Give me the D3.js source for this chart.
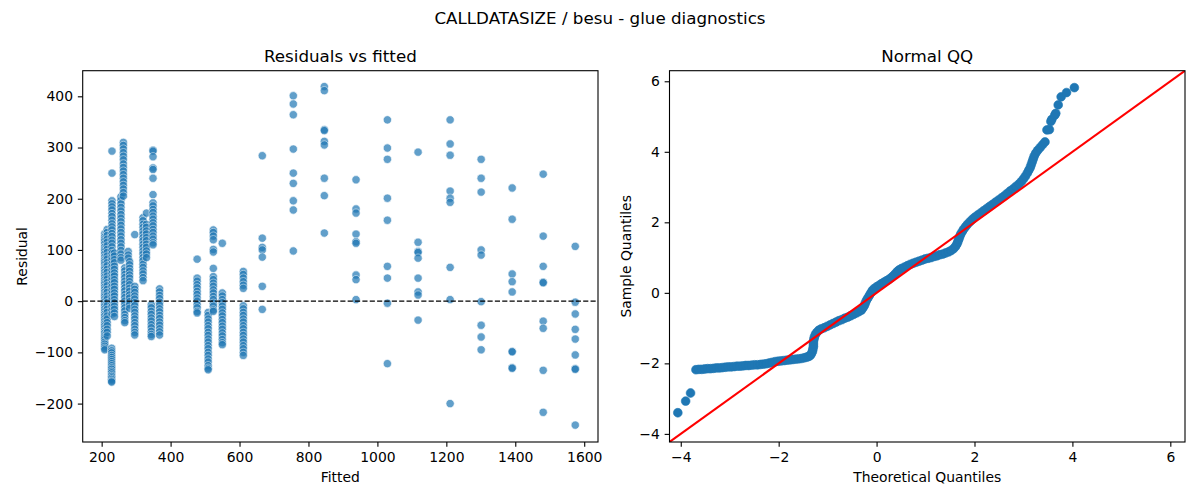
<!DOCTYPE html>
<html><head><meta charset="utf-8">
<script src="https://cdn.jsdelivr.net/npm/d3@7"></script>
<style>
body{margin:0;background:#fff}
svg{display:block}
text{font-family:"DejaVu Sans",sans-serif;fill:#000}
</style>
</head><body>
<svg id="chart" width="1200" height="500"></svg>
<script>
// ---------- data: residuals vs fitted ----------
const fitted = [209, 216, 230, 229, 237, 256, 263, 267, 277, 281, 296, 320, 330, 344, 349, 368,
  477, 509, 524, 550, 611, 666, 756, 846, 938, 1029, 1118, 1211, 1301, 1391, 1481, 1574];
const residuals = [
  [132,126,121,117,112,106,101,97,92,86,81,77,72,66,62,57,52,47,42,37,33,28,23,18,13,9,4,-1,-6,-10,-15,-20,-25,-29,-34,-39,-44,-48,-53,-58,-62,-67,-71,-75,-80,-84,-88,-92,-95],
  [140,134,128,121,115,108,101,95,88,82,75,69,62,56,49,43,36,30,23,17,10,4,-3,-9,-16,-22,-29,-35,-42,-48,-55,-61,-68],
  [293,250,196,190,184,178,171,165,158,151,145,139,132,126,119,113,106,99,93,86,80,73,67,60,54,47,41,34,28,21,15,8,2,-5,-11,-18,-25],
  [-92,-97,-101,-106,-110,-114,-118,-122,-126,-130,-133,-137,-140,-144,-147,-150,-153,-156,-158],
  [94,88,81,75,68,62,55,49,42,36,29,23,16,10,3,-3,-10,-16,-23,-30],
  [204,197,190,183,176,169,162,155,148,141,134,127,120,113,106,99,92,85,80],
  [310,304,297,290,283,276,268,261,254,247,240,233,226,219,212,205],
  [65,59,52,46,39,33,26,20,13,7,0,-6,-13,-19,-26,-32,-38,-42],
  [97,90,84],
  [77,71,64,58,51,45,38,32,25,19,12,6,-1,-7,-14],
  [130,29,23,17,10,4,-3,-9,-16,-22,-29,-35,-42,-48,-55,-61,-66],
  [163,157,150,144,137,131,124,118,111,105,98,92,85,79,72,66,59,53,46,40],
  [172,150,144,137,131,124,118,111,105,98,92,85],
  [-7,-13,-20,-26,-33,-39,-46,-52,-59,-65,-69],
  [295,293,282,260,257,240,208,192,186,179,173,166,160,153,147,140,134,127,121,114,110],
  [24,18,11,5,-2,-8,-15,-21,-28,-34,-41,-47,-54,-60,-66],
  [82,45,39,32,26,19,13,6,0,-7,-13,-20,-23],
  [-22,-28,-35,-41,-48,-54,-61,-67,-74,-80,-87,-93,-100,-106,-113,-119,-126,-131,-134],
  [139,134,127,120,101,96,64,48,42,35,29,22,16,9,3,-4,-10,-17,-20],
  [113,16,10,3,-3,-10,-16,-23,-29,-36,-42,-49,-55,-62,-68,-75,-81,-85],
  [58,52,45,38,31,25,-9,-15,-22,-28,-35,-41,-48,-54,-61,-67,-74,-80,-87,-93,-100,-106],
  [284,123,105,100,86,29,-16],
  [401,385,364,297,250,230,196,178,98],
  [419,411,335,333,312,305,240,206,133],
  [237,180,172,131,116,113,51,42,3],
  [354,299,277,201,158,68,45,-4,-122],
  [291,115,97,95,84,45,18,12,-37],
  [354,307,285,215,201,193,66,3,-200],
  [277,240,213,100,90,-1,-47,-70,-95],
  [221,160,53,38,18,-98,-99,-130,-131],
  [248,127,68,37,36,-39,-53,-135,-217],
  [107,-2,-25,-55,-74,-105,-132,-133,-242]
];
const fittedTicks = [200, 400, 600, 800, 1000, 1200, 1400, 1600];
const residTicks = [-200, -100, 0, 100, 200, 300, 400];

// ---------- data: normal QQ ----------
const qqTheo = [-4.06,-3.90,-3.80,
 -3.69,-3.63,-3.57,-3.51,-3.45,-3.39,-3.33,-3.27,-3.21,-3.15,-3.09,-3.03,-2.97,-2.91,-2.85,-2.79,-2.73,-2.67,-2.61,-2.55,-2.49,-2.43,-2.37,-2.31,-2.25,-2.19,-2.13,-2.07,-2.01,-1.95,-1.89,-1.83,-1.77,-1.71,-1.65,-1.59,-1.53,-1.47,-1.42,-1.38,-1.35,
 -1.33,-1.31,-1.30,-1.29,-1.29,-1.29,-1.28,-1.27,-1.25,-1.22,-1.18,-1.13,-1.07,-1.01,-0.95,-0.89,-0.83,-0.77,-0.71,-0.65,-0.59,-0.53,-0.47,-0.41,-0.36,-0.31,
 -0.28,-0.25,-0.23,-0.21,-0.18,-0.15,-0.12,-0.09,-0.05,0.00,0.05,0.10,0.15,0.20,0.25,0.30,0.34,0.38,0.42,0.46,0.51,
 0.57,0.63,0.69,0.75,0.81,0.87,0.93,0.99,1.05,1.11,1.17,1.23,1.29,1.35,1.41,1.47,1.52,1.57,
 1.61,1.64,1.66,1.68,1.70,1.72,1.75,1.78,1.82,1.86,
 1.91,1.96,2.01,2.07,2.13,2.19,2.25,2.31,2.37,2.43,2.49,2.55,2.61,2.67,2.73,2.79,2.85,2.91,2.96,3.00,3.04,3.08,3.11,3.14,3.16,3.18,3.20,3.22,3.25,3.29,3.34,3.39,3.44,
 3.48,3.53,3.56,3.58,3.64,3.66,3.71,3.77,3.88,4.04];
const qqSample = [-3.40,-3.07,-2.84,
 -2.18,-2.17,-2.17,-2.16,-2.15,-2.15,-2.14,-2.13,-2.13,-2.12,-2.11,-2.10,-2.10,-2.09,-2.08,-2.08,-2.07,-2.06,-2.06,-2.05,-2.04,-2.04,-2.03,-2.02,-2.01,-1.99,-1.97,-1.95,-1.94,-1.93,-1.92,-1.91,-1.90,-1.89,-1.88,-1.87,-1.86,-1.84,-1.82,-1.80,-1.77,
 -1.72,-1.66,-1.59,-1.52,-1.45,-1.38,-1.31,-1.25,-1.18,-1.12,-1.06,-1.02,-0.99,-0.95,-0.91,-0.87,-0.83,-0.79,-0.76,-0.72,-0.69,-0.65,-0.61,-0.57,-0.53,-0.49,
 -0.43,-0.36,-0.29,-0.22,-0.15,-0.08,-0.01,0.06,0.12,0.17,0.21,0.26,0.30,0.34,0.38,0.43,0.48,0.54,0.60,0.65,0.69,
 0.73,0.77,0.81,0.84,0.87,0.90,0.93,0.96,0.98,1.00,1.03,1.05,1.08,1.10,1.13,1.16,1.20,1.25,
 1.31,1.38,1.45,1.52,1.60,1.67,1.74,1.81,1.88,1.95,
 2.02,2.09,2.15,2.21,2.27,2.33,2.39,2.45,2.51,2.57,2.63,2.69,2.75,2.82,2.89,2.95,3.02,3.09,3.16,3.23,3.31,3.40,3.48,3.56,3.64,3.72,3.80,3.88,3.96,4.04,4.12,4.20,4.28,
 4.62,4.63,4.86,4.92,5.04,5.09,5.33,5.56,5.68,5.82];
const qqTicks = [-4, -2, 0, 2, 4, 6];

// ---------- layout ----------
const svg = d3.select("#chart");
const C0 = "#1f77b4";
const TICK = 4.86, PAD = 4.86, FS = "13.9px";
const fmt = d3.format("d");

const L = {x0: 82.7, x1: 598, y0: 70.7, y1: 442};
const R = {x0: 669.5, x1: 1185, y0: 70.7, y1: 442};

const xL = d3.scaleLinear().domain([145, 1640]).range([L.x0, L.x1]);
const yL = d3.scaleLinear().domain([-275, 450]).range([L.y1, L.y0]);
const xR = d3.scaleLinear().domain([-4.23, 6.30]).range([R.x0, R.x1]);
const yR = d3.scaleLinear().domain([-4.23, 6.30]).range([R.y1, R.y0]);

function drawAxes(box, xs, ys, xt, yt) {
  const gx = svg.append("g").attr("transform", `translate(0,${box.y1})`)
    .call(d3.axisBottom(xs).tickValues(xt).tickFormat(fmt).tickSize(TICK).tickPadding(PAD).tickSizeOuter(0));
  const gy = svg.append("g").attr("transform", `translate(${box.x0},0)`)
    .call(d3.axisLeft(ys).tickValues(yt).tickFormat(fmt).tickSize(TICK).tickPadding(PAD).tickSizeOuter(0));
  [gx, gy].forEach(g => {
    g.select(".domain").remove();
    g.selectAll("line").attr("stroke", "#000").attr("stroke-width", 1.1);
    g.selectAll("text").style("font-size", FS).style("font-family", "DejaVu Sans");
    g.attr("font-family", null).attr("font-size", null);
  });
}
function frame(box) {
  svg.append("rect").attr("x", box.x0).attr("y", box.y0)
    .attr("width", box.x1 - box.x0).attr("height", box.y1 - box.y0)
    .attr("fill", "none").attr("stroke", "#000").attr("stroke-width", 1.1);
}

// suptitle
svg.append("text").attr("x", 600).attr("y", 24).attr("text-anchor", "middle")
  .style("font-size", "16.7px").text("CALLDATASIZE / besu - glue diagnostics");

// ---------- left panel ----------
svg.append("clipPath").attr("id", "clipL").append("rect")
  .attr("x", L.x0).attr("y", L.y0).attr("width", L.x1 - L.x0).attr("height", L.y1 - L.y0);
const ptsL = [];
fitted.forEach((f, i) => residuals[i].forEach(r => ptsL.push([f, r])));
svg.append("g").attr("clip-path", "url(#clipL)")
  .selectAll("circle").data(ptsL).join("circle")
  .attr("cx", d => xL(d[0])).attr("cy", d => yL(d[1])).attr("r", 4.17)
  .attr("fill", C0).attr("stroke", "#fff").attr("stroke-width", 0.67).attr("opacity", 0.7);
svg.append("line").attr("x1", L.x0).attr("x2", L.x1).attr("y1", yL(0)).attr("y2", yL(0))
  .attr("stroke", "#000").attr("stroke-width", 1.39).attr("stroke-dasharray", "5.14,2.22");
drawAxes(L, xL, yL, fittedTicks, residTicks);
frame(L);
svg.append("text").attr("x", (L.x0 + L.x1) / 2).attr("y", 62.4).attr("text-anchor", "middle")
  .style("font-size", "16.7px").text("Residuals vs fitted");
svg.append("text").attr("x", (L.x0 + L.x1) / 2).attr("y", 482).attr("text-anchor", "middle")
  .style("font-size", FS).text("Fitted");
svg.append("text").attr("transform", `translate(27,${(L.y0 + L.y1) / 2}) rotate(-90)`)
  .attr("text-anchor", "middle").style("font-size", FS).text("Residual");

// ---------- right panel ----------
svg.append("clipPath").attr("id", "clipR").append("rect")
  .attr("x", R.x0).attr("y", R.y0).attr("width", R.x1 - R.x0).attr("height", R.y1 - R.y0);
const gR = svg.append("g").attr("clip-path", "url(#clipR)");
gR.selectAll("circle").data(qqTheo.map((t, i) => [t, qqSample[i]])).join("circle")
  .attr("cx", d => xR(d[0])).attr("cy", d => yR(d[1])).attr("r", 4.4)
  .attr("fill", C0).attr("stroke", C0).attr("stroke-width", 0.6);
const lim = xR.domain();
gR.append("line").attr("x1", xR(lim[0])).attr("y1", yR(lim[0]))
  .attr("x2", xR(lim[1])).attr("y2", yR(lim[1]))
  .attr("stroke", "#ff0000").attr("stroke-width", 2.08);
drawAxes(R, xR, yR, qqTicks, qqTicks);
frame(R);
svg.append("text").attr("x", (R.x0 + R.x1) / 2).attr("y", 62.4).attr("text-anchor", "middle")
  .style("font-size", "16.7px").text("Normal QQ");
svg.append("text").attr("x", (R.x0 + R.x1) / 2).attr("y", 482).attr("text-anchor", "middle")
  .style("font-size", FS).text("Theoretical Quantiles");
svg.append("text").attr("transform", `translate(631,${(R.y0 + R.y1) / 2}) rotate(-90)`)
  .attr("text-anchor", "middle").style("font-size", FS).text("Sample Quantiles");
</script>
</body></html>
